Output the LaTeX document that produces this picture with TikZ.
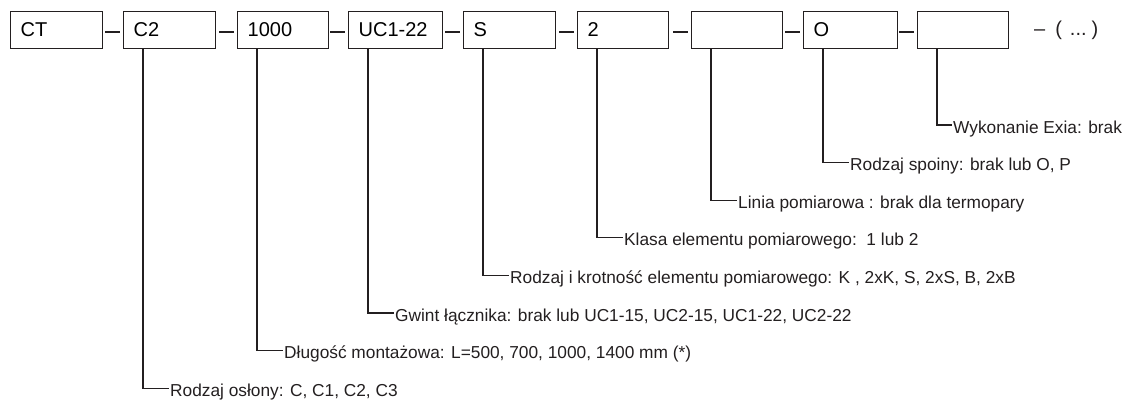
\documentclass[tikz,border=0pt]{standalone}
\usepackage{fontspec}
\setmainfont{Liberation Sans}
\definecolor{ink}{RGB}{35,31,32}

\begin{document}
\begin{tikzpicture}[x=1pt,y=-1pt,
  codebox/.style={draw=ink,line width=1.3pt,anchor=north west,minimum height=37pt,
    inner xsep=10pt,inner ysep=0pt,text width=#1,align=left,
    font=\fontsize{20}{24}\selectfont,text height=14.3pt,text depth=2pt},
  desc/.style={anchor=west,inner sep=0pt,inner xsep=1pt,text height=16.2pt,text depth=0pt,
    font=\fontsize{17.3}{20}\selectfont,text=ink},
  leader/.style={draw=ink,line width=1.3pt},
  joiner/.style={draw=ink,line width=1.3pt}]
  \useasboundingbox (0,0) rectangle (1123,401);
  % code boxes
  \node[codebox=72pt] (b1) at (10,11) {CT};
  \node[codebox=72pt] (b2) at (123,11) {C2};
  \node[codebox=71pt] (b3) at (237,11) {1000};
  \node[codebox=74pt] (b4) at (348,11) {UC1-22};
  \node[codebox=72pt] (b5) at (463,11) {S};
  \node[codebox=71pt] (b6) at (577,11) {2};
  \node[codebox=71pt] (b7) at (691,11) {};
  \node[codebox=74pt] (b8) at (803,11) {O};
  \node[codebox=71pt] (b9) at (917,11) {};
  \node[desc,anchor=west,font=\fontsize{20}{24}\selectfont,text height=14.3pt,text depth=2pt] (more) at (1033,29.5)
    {–\hspace{10pt}(\hspace{8pt}...\hspace{5pt})};
  % dashes between boxes
  \foreach \b in {b2,b3,b4,b5,b6,b7,b8,b9}
    \draw[joiner] ([xshift=-18pt,yshift=-2pt]\b.west) -- ([xshift=-3pt,yshift=-2pt]\b.west);
  % descriptions
  \node[desc] (l2) at (169,388.2) {Rodzaj osłony: C, C1, C2, C3};
  \node[desc] (l3) at (283,350.6) {Długość montażowa: L=500, 700, 1000, 1400 mm (*)};
  \node[desc] (l4) at (394,313) {Gwint łącznika: brak lub UC1-15, UC2-15, UC1-22, UC2-22};
  \node[desc] (l5) at (509,275.4) {Rodzaj i krotność elementu pomiarowego: K , 2xK, S, 2xS, B, 2xB};
  \node[desc] (l6) at (623,237.8) {Klasa elementu pomiarowego:\ \ 1 lub 2};
  \node[desc] (l7) at (737,200.2) {Linia pomiarowa : brak dla termopary};
  \node[desc] (l8) at (849,162.6) {Rodzaj spoiny: brak lub O, P};
  \node[desc] (l9) at (952,125) {Wykonanie Exia: brak};
  % leaders
  \draw[leader] ([xshift=20pt]b2.south west) |- (l2.west);
  \draw[leader] ([xshift=20pt]b3.south west) |- (l3.west);
  \draw[leader] ([xshift=20pt]b4.south west) |- (l4.west);
  \draw[leader] ([xshift=20pt]b5.south west) |- (l5.west);
  \draw[leader] ([xshift=20pt]b6.south west) |- (l6.west);
  \draw[leader] ([xshift=20pt]b7.south west) |- (l7.west);
  \draw[leader] ([xshift=20pt]b8.south west) |- (l8.west);
  \draw[leader] ([xshift=20pt]b9.south west) |- (l9.west);
\end{tikzpicture}
\end{document}
